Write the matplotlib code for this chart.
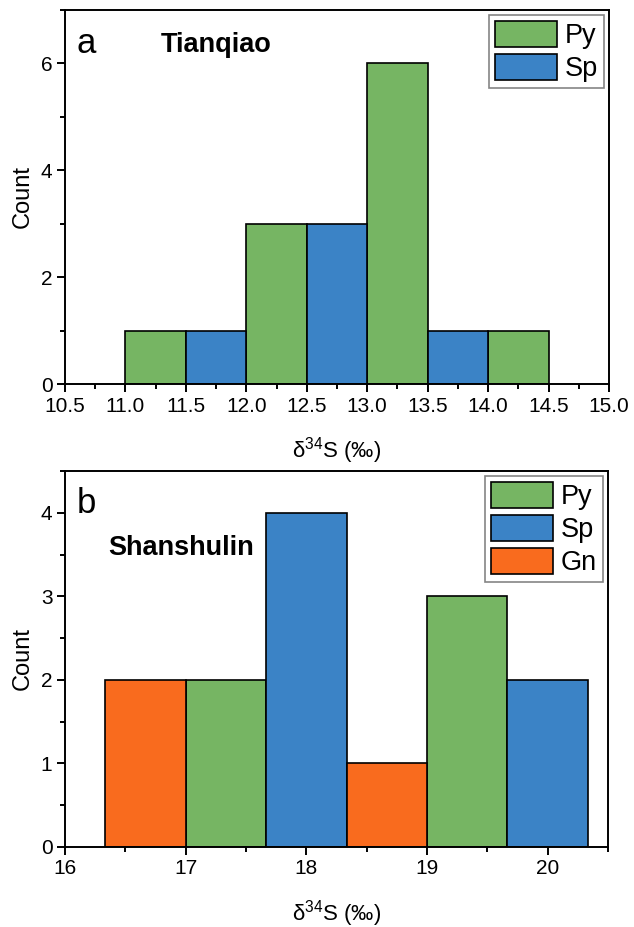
import matplotlib
matplotlib.use('Agg')
import matplotlib.pyplot as plt
from matplotlib.ticker import MultipleLocator

plt.rcParams['font.family'] = ['Liberation Sans', 'DejaVu Sans']
plt.rcParams['mathtext.fontset'] = 'custom'
plt.rcParams['mathtext.rm'] = 'Liberation Sans'
plt.rcParams['mathtext.it'] = 'Liberation Sans'

GREEN = '#76B563'
BLUE = '#3B83C6'
ORANGE = '#F96B1E'

# panel a - Tianqiao, bin width 0.5
a_py_left = [11.0, 12.0, 13.0, 14.0]
a_py_count = [1, 3, 6, 1]
a_sp_left = [11.5, 12.5, 13.5]
a_sp_count = [1, 3, 1]
a_width = 0.5

# panel b - Shanshulin, bin width 2/3
b_width = 2.0 / 3.0
b_gn_left = [16.0 + 1 / 3, 18.0 + 1 / 3]
b_gn_count = [2, 1]
b_py_left = [17.0, 19.0]
b_py_count = [2, 3]
b_sp_left = [17.0 + 2 / 3, 19.0 + 2 / 3]
b_sp_count = [4, 2]

XLABEL = 'δ$^{\\mathrm{34}}$S (‰)'


def style_axes(ax):
    for s in ax.spines.values():
        s.set_linewidth(1.4)
    ax.tick_params(which='both', direction='out', top=False, right=False,
                   labelsize=15, width=1.4, pad=3)
    ax.tick_params(which='major', length=6)
    ax.tick_params(which='minor', length=3.5)
    ax.set_xlabel(XLABEL, fontsize=16, labelpad=14)
    ax.set_ylabel('Count', fontsize=17, labelpad=5)


def add_legend(ax):
    leg = ax.legend(loc='upper right', fontsize=19.5, fancybox=False,
                    edgecolor='#666666', handlelength=2.3, handleheight=1.1,
                    handletextpad=0.3, borderpad=0.2, labelspacing=0.18,
                    borderaxespad=0.2)
    leg.get_frame().set_linewidth(1.2)
    return leg


fig = plt.figure(figsize=(6.34, 9.27), dpi=100)
W, H = 634, 927
ax1 = fig.add_axes([65 / W, 1 - 384 / H, (609 - 65) / W, (384 - 10) / H])
ax2 = fig.add_axes([65 / W, 1 - 847 / H, (608 - 65) / W, (847 - 471) / H])

# panel a
ax1.bar(a_py_left, a_py_count, width=a_width, align='edge', color=GREEN,
        edgecolor='black', linewidth=1.2, label='Py')
ax1.bar(a_sp_left, a_sp_count, width=a_width, align='edge', color=BLUE,
        edgecolor='black', linewidth=1.2, label='Sp')
ax1.set_xlim(10.5, 15.0)
ax1.set_ylim(0, 7)
ax1.xaxis.set_major_locator(MultipleLocator(0.5))
ax1.xaxis.set_minor_locator(MultipleLocator(0.25))
ax1.yaxis.set_major_locator(MultipleLocator(2))
ax1.yaxis.set_minor_locator(MultipleLocator(1))
ax1.xaxis.set_major_formatter(plt.FormatStrFormatter('%.1f'))
style_axes(ax1)
ax1.text(0.022, 0.885, 'a', transform=ax1.transAxes, fontsize=25,
         va='baseline')
ax1.text(0.176, 0.888, 'Tianqiao', transform=ax1.transAxes, fontsize=19.5,
         fontweight='bold', va='baseline')
add_legend(ax1)

# panel b
ax2.bar(b_py_left, b_py_count, width=b_width, align='edge', color=GREEN,
        edgecolor='black', linewidth=1.2, label='Py')
ax2.bar(b_sp_left, b_sp_count, width=b_width, align='edge', color=BLUE,
        edgecolor='black', linewidth=1.2, label='Sp')
ax2.bar(b_gn_left, b_gn_count, width=b_width, align='edge', color=ORANGE,
        edgecolor='black', linewidth=1.2, label='Gn')
ax2.set_xlim(16.0, 20.5)
ax2.set_ylim(0, 4.5)
ax2.xaxis.set_major_locator(MultipleLocator(1))
ax2.xaxis.set_minor_locator(MultipleLocator(0.5))
ax2.yaxis.set_major_locator(MultipleLocator(1))
ax2.yaxis.set_minor_locator(MultipleLocator(0.5))
style_axes(ax2)
ax2.text(0.022, 0.888, 'b', transform=ax2.transAxes, fontsize=25,
         va='baseline')
ax2.text(0.08, 0.777, 'Shanshulin', transform=ax2.transAxes, fontsize=19.5,
         fontweight='bold', va='baseline')
add_legend(ax2)

fig.savefig('out.png', dpi=100)
